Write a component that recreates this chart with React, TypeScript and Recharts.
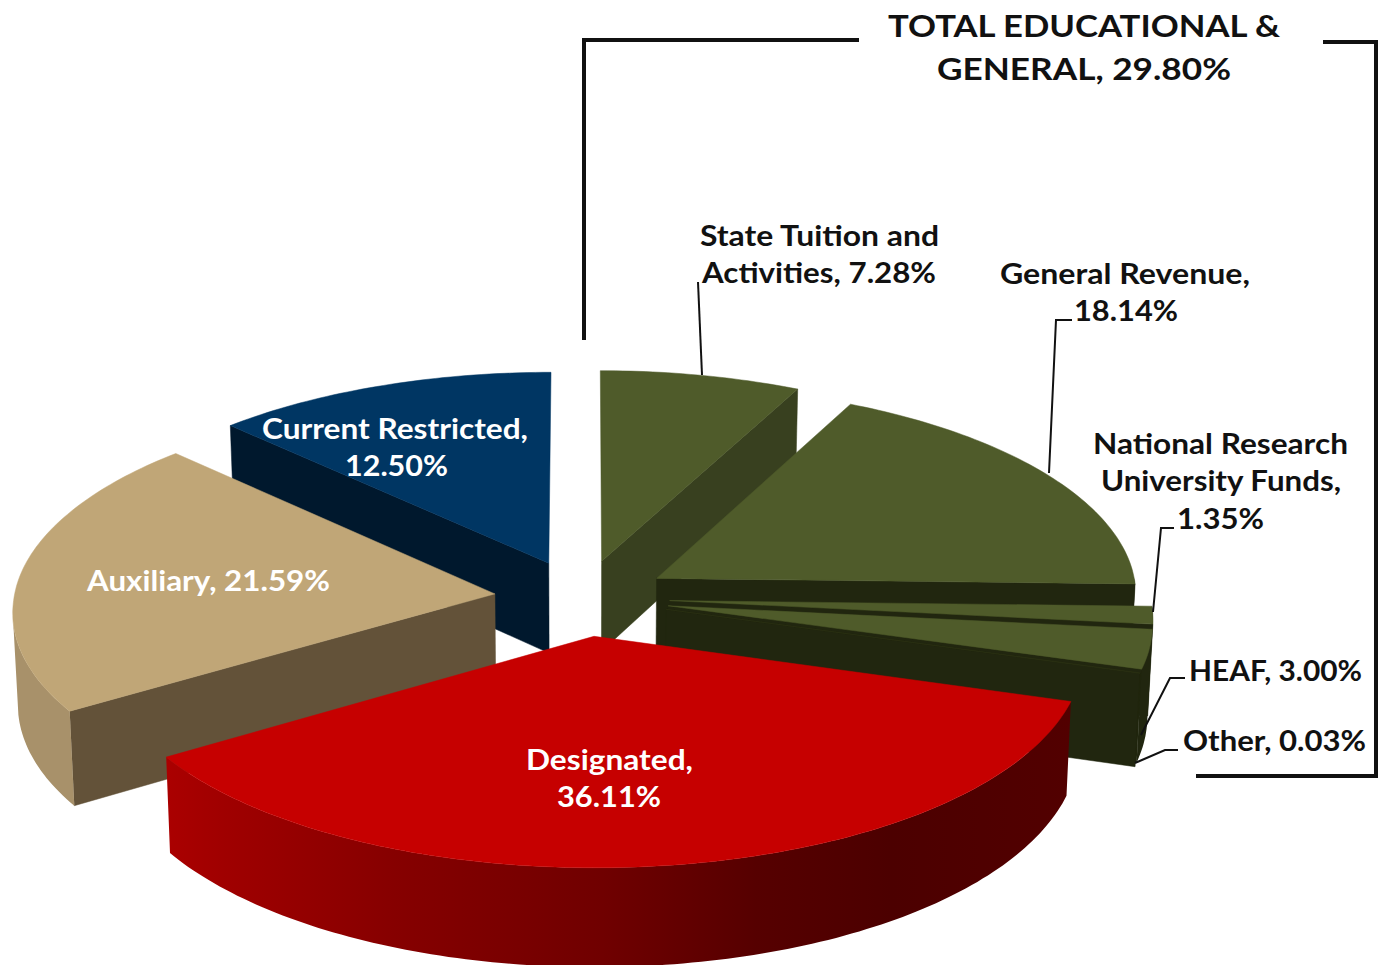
import React from "react";
import { PieChart, Pie } from "recharts";

const names = [
  "State Tuition and Activities",
  "General Revenue",
  "National Research University Funds",
  "HEAF",
  "Other",
  "Designated",
  "Auxiliary",
  "Current Restricted",
];
const shares = [7.28, 18.14, 1.35, 3.0, 0.03, 36.11, 21.59, 12.5];
const chartData = names.map((name, i) => ({ name, value: shares[i] }));

// back to front, the pie is exploded so slices overlap each other
const paintOrder = [
  "State Tuition and Activities",
  "Current Restricted",
  "Auxiliary",
  "General Revenue",
  "National Research University Funds",
  "HEAF",
  "Other",
  "Designated",
];

const OLIVE = "#4f5b2a";
const OLIVE_DARK = "#21260f";
const colors: Record<string, { top: string; wall: string; rim: string }> = {
  "State Tuition and Activities": { top: OLIVE, wall: "#38401f", rim: "#38401f" },
  "General Revenue": { top: OLIVE, wall: OLIVE_DARK, rim: OLIVE_DARK },
  "National Research University Funds": { top: OLIVE, wall: OLIVE_DARK, rim: OLIVE_DARK },
  HEAF: { top: OLIVE, wall: OLIVE_DARK, rim: OLIVE_DARK },
  Other: { top: "#2c3214", wall: OLIVE_DARK, rim: OLIVE_DARK },
  Designated: { top: "#c60000", wall: "#500000", rim: "url(#redRim)" },
  Auxiliary: { top: "#c0a677", wall: "#635239", rim: "#a8916a" },
  "Current Restricted": { top: "#003663", wall: "#00182d", rim: "#00182d" },
};

const textLines = [
  { text: "TOTAL EDUCATIONAL &", x: 888, y: 37, w: 392, fill: "#111" },
  { text: "GENERAL, 29.80%", x: 937, y: 80, w: 294, fill: "#111" },
  { text: "State Tuition and", x: 700, y: 246, w: 239, fill: "#111" },
  { text: "Activities, 7.28%", x: 702, y: 283, w: 234, fill: "#111" },
  { text: "General Revenue,", x: 1000, y: 284, w: 250, fill: "#111" },
  { text: "18.14%", x: 1074, y: 321, w: 104, fill: "#111" },
  { text: "National Research", x: 1093, y: 454, w: 255, fill: "#111" },
  { text: "University Funds,", x: 1101, y: 491, w: 240, fill: "#111" },
  { text: "1.35%", x: 1177, y: 529, w: 87, fill: "#111" },
  { text: "HEAF, 3.00%", x: 1189, y: 681, w: 173, fill: "#111" },
  { text: "Other, 0.03%", x: 1183, y: 751, w: 183, fill: "#111" },
  { text: "Current Restricted,", x: 262, y: 439, w: 266, fill: "#fff" },
  { text: "12.50%", x: 345, y: 476, w: 103, fill: "#fff" },
  { text: "Auxiliary, 21.59%", x: 87, y: 591, w: 243, fill: "#fff" },
  { text: "Designated,", x: 526, y: 770, w: 167, fill: "#fff" },
  { text: "36.11%", x: 557, y: 807, w: 104, fill: "#fff" },
];

const leaders = [
  "698,282 702,375",
  "1072,320 1056,320 1049,473",
  "1174,528 1161,528 1153,612",
  "1185,678 1170,678 1141,735",
  "1178,750 1165,750 1135,763",
];
const brackets = [
  "859,40 584,40 584,340",
  "1323,42 1376,42 1376,776 1196,776",
];

const EXPLODE = 85;
const TILT = 0.449;
const STRETCH = 1.032;
const PERSPECTIVE = 0.000153;
const DEPTH = 91;
const rad = (d: number) => (d * Math.PI) / 180;

const Slice3D = (props: any, only: string) => {
  const { cx, cy, outerRadius, startAngle, endAngle, name, payload } = props;
  const sliceName = name ?? payload?.name;
  if (sliceName !== only) return <g />;

  // recharts angles run counter clockwise from 3 o'clock, turn them to clockwise from 12
  const a0 = 90 - startAngle;
  const a1 = 90 - endAngle;
  const mid = (a0 + a1) / 2;
  const ox = EXPLODE * Math.sin(rad(mid));
  const oy = EXPLODE * Math.cos(rad(mid));

  const project = (x: number, y: number, low: boolean) => {
    const s = 1 / (1 + PERSPECTIVE * y);
    const near = y < 0 ? 1 - 0.000012 * y : 1; // front edge is a touch wider
    const px = cx + STRETCH * x * s * near * (low ? 0.991 : 1);
    const py = cy - TILT * y * s + (low ? DEPTH * s : 0);
    return `${px.toFixed(1)},${py.toFixed(1)}`;
  };
  const rimPt = (a: number, low: boolean) =>
    project(ox + outerRadius * Math.sin(rad(a)), oy + outerRadius * Math.cos(rad(a)), low);
  const apex = (low: boolean) => project(ox, oy, low);

  const sweep = (from: number, to: number, low: boolean) => {
    const pts: string[] = [];
    const n = Math.max(1, Math.ceil(to - from));
    for (let i = 0; i <= n; i++) pts.push(rimPt(from + ((to - from) * i) / n, low));
    return pts;
  };

  const c = colors[sliceName];
  const topFace = [apex(false), ...sweep(a0, a1, false)].join(" ");
  const faces: React.ReactNode[] = [];

  if (Math.sin(rad(a0)) < -1e-6) {
    faces.push(
      <polygon key="start" fill={c.wall} stroke={c.wall} strokeWidth={0.5}
        points={[apex(false), rimPt(a0, false), rimPt(a0, true), apex(true)].join(" ")} />
    );
  }
  if (Math.sin(rad(a1)) > 1e-6) {
    faces.push(
      <polygon key="end" fill={c.wall} stroke={c.wall} strokeWidth={0.5}
        points={[apex(false), rimPt(a1, false), rimPt(a1, true), apex(true)].join(" ")} />
    );
  }
  // the rim stops where the projected outline is widest, 262deg on the left
  const rimFrom = Math.max(a0, 90);
  const rimTo = Math.min(a1, 262);
  if (rimTo > rimFrom) {
    faces.push(
      <polygon key="rim" fill={c.rim} stroke="none"
        points={[...sweep(rimFrom, rimTo, false), ...sweep(rimFrom, rimTo, true).reverse()].join(" ")} />
    );
  }

  return (
    <g>
      {faces}
      <polygon points={topFace} fill={c.top} stroke={c.top} strokeWidth={0.5} />
    </g>
  );
};

export default function App() {
  return (
    <div style={{ position: "absolute", left: 0, top: 0, width: 1378, height: 965, background: "#fff" }}>
      <svg width={0} height={0} style={{ position: "absolute" }}>
        <defs>
          <linearGradient id="redRim" gradientUnits="userSpaceOnUse" x1={168} y1={0} x2={1072} y2={0}>
            <stop offset="0" stopColor="#aa0000" />
            <stop offset="0.06" stopColor="#a00000" />
            <stop offset="0.25" stopColor="#860000" />
            <stop offset="0.48" stopColor="#700000" />
            <stop offset="0.65" stopColor="#560000" />
            <stop offset="0.8" stopColor="#4c0000" />
            <stop offset="1" stopColor="#520000" />
          </linearGradient>
        </defs>
      </svg>
      <PieChart width={1378} height={965} margin={{ top: 0, right: 0, bottom: 0, left: 0 }}>
        {paintOrder.map((only) => (
          <Pie
            key={only}
            data={chartData}
            dataKey="value"
            nameKey="name"
            cx={582}
            cy={598}
            innerRadius={0}
            outerRadius={466}
            startAngle={90}
            endAngle={-270}
            stroke="none"
            isAnimationActive={false}
            shape={(props: any) => Slice3D(props, only)}
          />
        ))}
      </PieChart>
      <svg width={1378} height={965} style={{ position: "absolute", left: 0, top: 0, pointerEvents: "none" }}>
        {brackets.map((points) => (
          <polyline key={points} points={points} fill="none" stroke="#111" strokeWidth={4} />
        ))}
        {leaders.map((points) => (
          <polyline key={points} points={points} fill="none" stroke="#111" strokeWidth={2} />
        ))}
        {textLines.map((t) => (
          <text
            key={t.text}
            x={t.x}
            y={t.y}
            textLength={t.w}
            lengthAdjust="spacingAndGlyphs"
            fill={t.fill}
            fontFamily="Lato, 'Open Sans', sans-serif"
            fontWeight={700}
            fontSize={t.y < 100 ? 31 : 28}
          >
            {t.text}
          </text>
        ))}
      </svg>
    </div>
  );
}
